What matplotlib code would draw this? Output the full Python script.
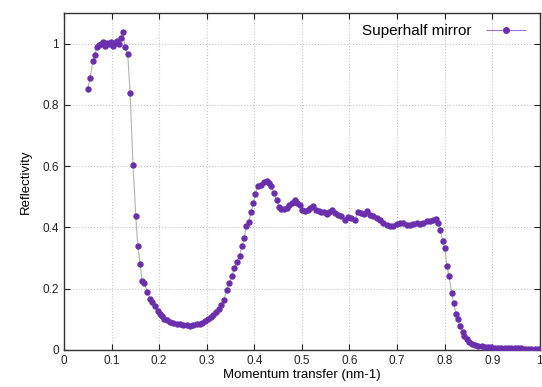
import matplotlib.pyplot as plt
from matplotlib.ticker import MultipleLocator
from matplotlib.legend_handler import HandlerErrorbar

# Datos
q = [0.050, 0.055, 0.061, 0.065, 0.069, 0.074, 0.078, 0.082, 0.086, 0.090,
     0.095, 0.099, 0.103, 0.107, 0.111, 0.116, 0.120, 0.124, 0.128, 0.134,
     0.139, 0.145, 0.151, 0.155, 0.160, 0.164, 0.169, 0.175, 0.181, 0.186,
     0.191, 0.197, 0.202, 0.207, 0.211, 0.216, 0.223, 0.230, 0.237, 0.244,
     0.251, 0.258, 0.265, 0.272, 0.279, 0.286, 0.291, 0.297, 0.303, 0.308,
     0.314, 0.319, 0.325, 0.330, 0.336, 0.342, 0.347, 0.353, 0.358, 0.363,
     0.369, 0.374, 0.379, 0.383, 0.388, 0.393, 0.398, 0.402, 0.408, 0.415,
     0.421, 0.426, 0.431, 0.436, 0.441, 0.447, 0.452, 0.457, 0.462, 0.468,
     0.473, 0.479, 0.485, 0.490, 0.496, 0.501, 0.507, 0.513, 0.518, 0.524,
     0.529, 0.535, 0.541, 0.546, 0.552, 0.557, 0.563, 0.569, 0.576, 0.583,
     0.590, 0.597, 0.604, 0.611, 0.618, 0.624, 0.631, 0.637, 0.643, 0.650,
     0.657, 0.664, 0.671, 0.678, 0.685, 0.692, 0.699, 0.706, 0.713, 0.720,
     0.727, 0.734, 0.741, 0.748, 0.755, 0.762, 0.769, 0.776, 0.781, 0.786,
     0.791, 0.796, 0.800, 0.805, 0.809, 0.815, 0.819, 0.824, 0.827, 0.832,
     0.838, 0.841, 0.846, 0.851, 0.857, 0.863, 0.870, 0.878, 0.884, 0.891,
     0.898, 0.905, 0.912, 0.919, 0.926, 0.933, 0.940, 0.947, 0.954, 0.961,
     0.968, 0.975, 0.982, 0.989, 0.996]

refl = [0.853, 0.889, 0.944, 0.964, 0.990, 0.997, 1.000, 1.006, 0.993, 1.003,
        1.000, 1.006, 0.993, 1.003, 1.010, 1.000, 1.020, 1.040, 0.990, 0.965,
        0.840, 0.604, 0.436, 0.340, 0.281, 0.226, 0.217, 0.190, 0.166, 0.155,
        0.142, 0.128, 0.117, 0.109, 0.102, 0.096, 0.090, 0.089, 0.086, 0.084,
        0.082, 0.080, 0.078, 0.080, 0.083, 0.084, 0.087, 0.094, 0.100, 0.107,
        0.114, 0.124, 0.135, 0.145, 0.163, 0.194, 0.218, 0.242, 0.266, 0.288,
        0.307, 0.340, 0.365, 0.405, 0.418, 0.449, 0.479, 0.510, 0.536, 0.539,
        0.547, 0.551, 0.545, 0.536, 0.512, 0.490, 0.466, 0.460, 0.460, 0.463,
        0.474, 0.479, 0.488, 0.479, 0.472, 0.458, 0.452, 0.458, 0.463, 0.471,
        0.458, 0.452, 0.450, 0.449, 0.444, 0.449, 0.458, 0.447, 0.441, 0.436,
        0.425, 0.433, 0.431, 0.423, 0.449, 0.447, 0.444, 0.455, 0.441, 0.436,
        0.431, 0.423, 0.416, 0.408, 0.403, 0.406, 0.410, 0.414, 0.416, 0.408,
        0.408, 0.412, 0.414, 0.412, 0.416, 0.420, 0.420, 0.425, 0.427, 0.416,
        0.392, 0.354, 0.332, 0.275, 0.240, 0.185, 0.152, 0.118, 0.100, 0.078,
        0.057, 0.046, 0.035, 0.025, 0.020, 0.015, 0.012, 0.011, 0.009, 0.008,
        0.008, 0.007, 0.007, 0.006, 0.006, 0.006, 0.005, 0.005, 0.005, 0.005,
        0.004, 0.004, 0.004, 0.004, 0.004]

xticks = [0, 0.1, 0.2, 0.3, 0.4, 0.5, 0.6, 0.7, 0.8, 0.9, 1]
xlabels = ['0', '0.1', '0.2', '0.3', '0.4', '0.5', '0.6', '0.7', '0.8', '0.9', '1']
yticks = [0, 0.2, 0.4, 0.6, 0.8, 1]
ylabels = ['0', '0.2', '0.4', '0.6', '0.8', '1']

plt.rcParams['font.family'] = ['Liberation Sans', 'DejaVu Sans']

fig = plt.figure(figsize=(5.42, 3.87), dpi=100)
ax = fig.add_axes([0.118, 0.096, 0.878, 0.870])

purple = '#6b2fae'

# linea fina de union
ax.plot(q, refl, '-', color='#a9b8a6', linewidth=0.8, zorder=2)
ax.plot(q, refl, 'o', color=purple, markersize=4.6, markeredgewidth=0, zorder=3)

# muestra de la leyenda estilo gnuplot (con barras de error)
eb = ax.errorbar([], [], xerr=[], fmt='o', color=purple, markersize=4,
                 ecolor='#9b72cf', elinewidth=0.8, capsize=3,
                 label='Superhalf mirror')

ax.set_xlim(0, 1)
ax.set_ylim(0, 1.1)
ax.set_xticks(xticks)
ax.set_xticklabels(xlabels)
ax.set_yticks(yticks)
ax.set_yticklabels(ylabels)
ax.xaxis.set_minor_locator(MultipleLocator(0.1))

ax.tick_params(direction='in', top=True, right=True, length=4, width=0.8,
               labelsize=8.5, colors='#222222')
ax.grid(True, color='#c4c4c4', linestyle=':', linewidth=0.8)
ax.set_axisbelow(True)
for s in ax.spines.values():
    s.set_linewidth(1.0)
    s.set_color('#333333')

ax.set_xlabel('Momentum transfer (nm-1)', fontsize=9.5, labelpad=2)
ax.set_ylabel('Reflectivity', fontsize=9.5, labelpad=8)

ax.legend(loc='upper right', frameon=False, fontsize=11, markerfirst=False,
          handlelength=3.0, borderaxespad=0.3, handletextpad=0.8,
          handler_map={type(eb): HandlerErrorbar(xerr_size=1.3)})

plt.savefig('out.png', dpi=100)
